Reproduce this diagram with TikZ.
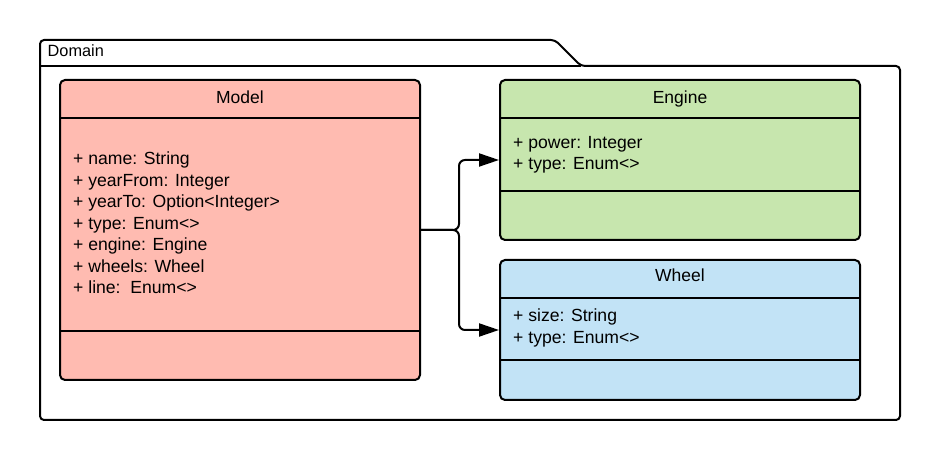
\documentclass[tikz,border=0pt]{standalone}
\usepackage{fontspec}
\setmainfont{Liberation Sans}
\usetikzlibrary{arrows.meta}
\definecolor{modelfill}{HTML}{FFBBB1}
\definecolor{enginefill}{HTML}{C7E6AE}
\definecolor{wheelfill}{HTML}{C2E3F6}
\tikzset{
  classbox/.style={draw=black, line width=2pt, rounded corners=5pt, minimum width=360pt, inner sep=0pt},
  sepline/.style={draw=black, line width=2pt},
  txt/.style={inner sep=0pt, anchor=base west, font=\fontsize{17.6}{21}\selectfont},
  ttl/.style={inner sep=0pt, anchor=base, font=\fontsize{17.5}{21}\selectfont},
  pkg/.style={draw=black, line width=2pt, rounded corners=4pt},
  conn/.style={draw=black, line width=2pt, rounded corners=6pt, -{Triangle[length=20pt,width=13pt]}}
}
\begin{document}
\begin{tikzpicture}[x=1pt,y=1pt]
\useasboundingbox (0,0) rectangle (940,460);
% package
\draw[pkg] (40,40) -- (40,420) -- (555,420) -- (581,394) -- (900,394) -- (900,40) -- cycle;
\draw[sepline] (40,394) -- (581,394);
\node[inner sep=0pt, anchor=base west, font=\fontsize{16.3}{19}\selectfont] (domain) at (47.5,403.5) {Domain};
% classes
\node[classbox, fill=modelfill, minimum height=300pt] (model) at (240,230) {};
\node[classbox, fill=enginefill, minimum height=160pt] (engine) at (680,300) {};
\node[classbox, fill=wheelfill, minimum height=140pt] (wheel) at (680,130) {};
% separators
\draw[sepline] (model.west |- 0,342) -- (model.east |- 0,342);
\draw[sepline] (model.west |- 0,129) -- (model.east |- 0,129);
\draw[sepline] (engine.west |- 0,342) -- (engine.east |- 0,342);
\draw[sepline] (engine.west |- 0,269) -- (engine.east |- 0,269);
\draw[sepline] (wheel.west |- 0,162) -- (wheel.east |- 0,162);
\draw[sepline] (wheel.west |- 0,100) -- (wheel.east |- 0,100);
% titles
\node[ttl] (modelt) at (240,356.7) {Model};
\node[ttl] (enginet) at (680,356.7) {Engine};
\node[ttl] (wheelt) at (680,178) {Wheel};
% attributes
\node[txt] (m1) at (73,295) {+ name: String};
\node[txt] (m2) at (73,273.5) {+ yearFrom: Integer};
\node[txt] (m3) at (73,252) {+ yearTo: Option<Integer>};
\node[txt] (m4) at (73,230.5) {+ type: Enum<>};
\node[txt] (m5) at (73,209) {+ engine: Engine};
\node[txt] (m6) at (73,187.5) {+ wheels: Wheel};
\node[txt] (m7) at (73,166) {+ line:\ \ Enum<>};
\node[txt] (e1) at (513,311.7) {+ power: Integer};
\node[txt] (e2) at (513,290.5) {+ type: Enum<>};
\node[txt] (w1) at (513,138) {+ size: String};
\node[txt] (w2) at (513,116.5) {+ type: Enum<>};
% connectors
\coordinate (j) at (459,230);
\draw[conn] (model.east) -- (j) |- (engine.west);
\draw[conn] (model.east) -- (j) |- (wheel.west);
\end{tikzpicture}
\end{document}
